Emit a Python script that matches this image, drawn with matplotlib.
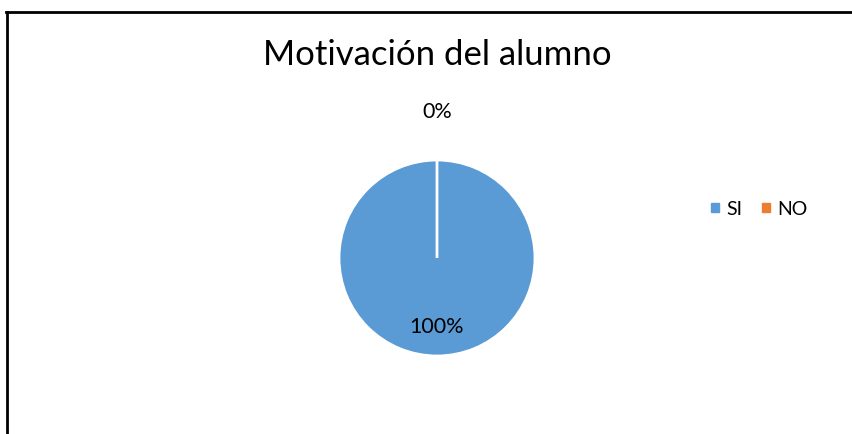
import matplotlib.pyplot as plt
from matplotlib.lines import Line2D

labels = ['SI', 'NO']
values = [100, 0]
colors = ['#5b9bd5', '#ed7d31']

plt.rcParams['font.family'] = ['Lato', 'DejaVu Sans']

fig = plt.figure(figsize=(8.53, 4.34), dpi=100)
ax = fig.add_axes([437/853 - 98/853, 1 - (258 + 98)/434, 196/853, 196/434])

wedges, texts, autotexts = ax.pie(values, colors=colors, startangle=90, counterclock=False,
                                  autopct='%1.0f%%', pctdistance=0.7,
                                  wedgeprops=dict(edgecolor='white', linewidth=2),
                                  textprops=dict(fontsize=15.5, color='black'))
# 0% label sits above the pie
autotexts[1].set_position((0, 1.49))
ax.set_xlim(-1, 1)
ax.set_ylim(-1, 1)
ax.set_aspect('equal')

fig.text(437/853, 1 - 55/434, 'Motivación del alumno', ha='center', va='center', fontsize=25)

handles = [plt.Rectangle((0, 0), 1, 1, color=c) for c in colors]
fig.legend(handles, labels, loc='center left', bbox_to_anchor=(694/853, 1 - 209/434),
           ncol=2, frameon=False, fontsize=14, handlelength=0.4, handleheight=0.4,
           handletextpad=0.35, columnspacing=1.05)

# chart frame (top and left edges visible)
fig.add_artist(Line2D([6/853, 1], [1 - 12/434, 1 - 12/434], color='black', linewidth=2))
fig.add_artist(Line2D([7/853, 7/853], [0, 1 - 12/434], color='black', linewidth=2))

fig.savefig('out.png', dpi=100)
